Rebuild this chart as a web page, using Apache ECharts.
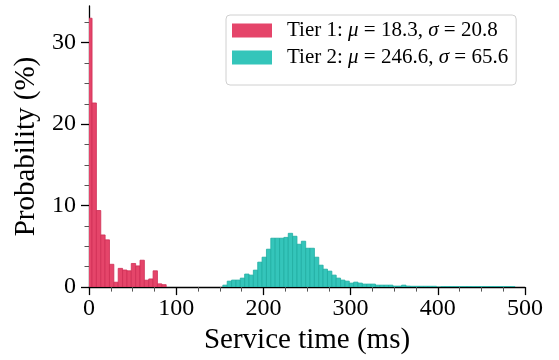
<!DOCTYPE html>
<html>
<head>
<meta charset="utf-8">
<script src="https://cdn.jsdelivr.net/npm/echarts@6/dist/echarts.min.js"></script>
<style>
  html, body { margin: 0; padding: 0; background: #fff; }
  #chart { width: 559px; height: 360px; }
</style>
</head>
<body>
<div id="chart"></div>
<script>
// histogram bins (ms), both tiers share 5 ms bins
const binWidth = 5;
const tier1Start = -1.5;
const tier2Start = 153.5;

// probability (%) per bin
const tier1Values = [33.0, 22.6, 9.4, 6.4, 5.8, 2.8, 0.6, 2.3, 2.1, 2.0, 2.9, 2.6, 3.3, 0.85, 1.0, 2.0, 0.4, 0.3];
const tier2Values = [
    0.24, 0.73, 0.86, 0.86, 1.1, 1.6, 1.47, 2.08, 3.06, 3.67,
    4.65, 6.0, 6.0, 6.0, 6.1, 6.6, 6.24, 5.26, 5.63, 4.77,
    4.77, 3.67, 2.69, 2.2, 1.96, 1.47, 1.1, 0.86, 0.73, 0.49,
    0.61, 0.49, 0.37, 0.37, 0.37, 0.24, 0.24, 0.24, 0.24, 0.12,
    0.12, 0.24, 0.12, 0.1, 0.1, 0.1, 0.1, 0.1, 0.1, 0,
    0.06, 0.06, 0.06, 0.06, 0.06, 0.06, 0.06, 0.06, 0.06, 0.06,
    0.06, 0.06, 0.06, 0.06, 0.06, 0.06, 0.06
];

const seriesNames = ['Tier 1', 'Tier 2'];
const tierMeans = ['18.3', '246.6'];
const tierStds = ['20.8', '65.6'];

// axis ticks
const xTicks = [0, 100, 200, 300, 400, 500];
const yMajorTicks = [0, 10, 20, 30];
const yMinorTicks = [2.5, 5, 7.5, 12.5, 15, 17.5, 22.5, 25, 27.5, 32.5];

const fontFamily = '"Liberation Serif", "Times New Roman", serif';

function toBins(start, values) {
    return values.map((v, i) => [start + i * binWidth, start + (i + 1) * binWidth, v]);
}

function makeRender(edge) {
    return function (params, api) {
        const p0 = api.coord([api.value(0), 0]);
        const p1 = api.coord([api.value(1), api.value(2)]);
        return {
            type: 'rect',
            shape: { x: p0[0], y: p1[1], width: p1[0] - p0[0], height: p0[1] - p1[1] },
            style: { fill: api.visual('color'), stroke: edge, lineWidth: 0.8 }
        };
    };
}

const chart = echarts.init(document.getElementById('chart'));

const option = {
    animation: false,
    textStyle: { fontFamily: fontFamily },
    grid: { left: 89, right: 34, top: 6, bottom: 72 },
    legend: {
        orient: 'vertical',
        left: 226,
        top: 15,
        padding: [5, 8, 17, 6],
        itemGap: 6,
        itemWidth: 40,
        itemHeight: 14,
        icon: 'rect',
        borderColor: '#d0d0d0',
        borderWidth: 1,
        borderRadius: 4,
        data: seriesNames,
        formatter: function (name) {
            const i = seriesNames.indexOf(name);
            return '{s|}{n|' + name + ': }{g|μ}{n| = ' + tierMeans[i] + ', }{g|σ}{n| = ' + tierStds[i] + '}';
        },
        textStyle: {
            rich: {
                s: { width: 10, lineHeight: 23 },
                n: { fontFamily: fontFamily, fontSize: 21, color: '#000', lineHeight: 23 },
                g: { fontFamily: fontFamily, fontSize: 21, fontStyle: 'italic', color: '#000', lineHeight: 23 }
            }
        }
    },
    xAxis: {
        type: 'value',
        min: 0,
        max: 500,
        interval: 100,
        name: 'Service time (ms)',
        nameLocation: 'middle',
        nameGap: 38,
        nameTextStyle: { fontFamily: fontFamily, fontSize: 29, color: '#000' },
        axisLine: { show: true, lineStyle: { color: '#000', width: 1.3 } },
        axisTick: { show: true, length: 8, lineStyle: { color: '#000', width: 1.3 } },
        minorTick: { show: true, splitNumber: 4, length: 4.5, lineStyle: { color: '#555', width: 1 } },
        axisLabel: {
            fontFamily: fontFamily, fontSize: 24, color: '#000', margin: 10,
            customValues: xTicks
        },
        splitLine: { show: false },
        minorSplitLine: { show: false }
    },
    yAxis: [
        {
            type: 'value',
            min: 0,
            max: 34.5,
            name: 'Probability (%)',
            nameLocation: 'middle',
            nameGap: 41,
            nameTextStyle: { fontFamily: fontFamily, fontSize: 29, color: '#000' },
            axisLine: { show: true, lineStyle: { color: '#000', width: 1.3 } },
            axisTick: { show: true, length: 8, customValues: yMajorTicks, lineStyle: { color: '#000', width: 1.3 } },
            axisLabel: {
                fontFamily: fontFamily, fontSize: 24, color: '#000', margin: 13,
                customValues: yMajorTicks
            },
            splitLine: { show: false }
        },
        {
            type: 'value',
            position: 'left',
            min: 0,
            max: 34.5,
            axisLine: { show: false },
            axisTick: { show: true, length: 4.5, customValues: yMinorTicks, lineStyle: { color: '#555', width: 1 } },
            axisLabel: { show: false },
            splitLine: { show: false }
        }
    ],
    series: [
        {
            name: seriesNames[0],
            type: 'custom',
            clip: true,
            renderItem: makeRender('#cf2f55'),
            itemStyle: { color: '#e5456a' },
            encode: { x: [0, 1], y: 2 },
            data: toBins(tier1Start, tier1Values)
        },
        {
            name: seriesNames[1],
            type: 'custom',
            clip: true,
            renderItem: makeRender('#20ada2'),
            itemStyle: { color: '#34c5ba' },
            encode: { x: [0, 1], y: 2 },
            data: toBins(tier2Start, tier2Values)
        }
    ]
};

chart.setOption(option);
window.addEventListener('resize', function () {
    chart.resize();
});
</script>
</body>
</html>
